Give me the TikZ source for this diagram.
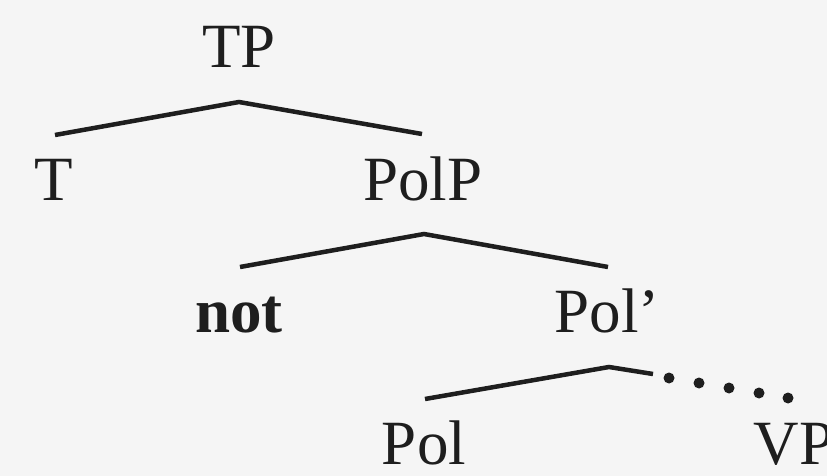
\documentclass[tikz,border=0pt]{standalone}
\usepackage{fontspec}
\setmainfont{Liberation Serif}
\definecolor{bg}{HTML}{F5F5F5}
\definecolor{ink}{HTML}{1E1E1E}
\begin{document}
\begin{tikzpicture}[x=1pt,y=-1pt,
  lbl/.style={anchor=base,inner sep=0pt,text=ink,font=\fontsize{63}{70}\selectfont},
  branch/.style={draw=ink,line width=4.5pt,line join=miter},
  dotmark/.style={fill=ink,draw=none}]
\useasboundingbox[fill=bg] (0,0) rectangle (827,476);
\begin{scope}
\clip (0,0) rectangle (827,476);
\node[lbl] (TP) at (239,68) {TP};
\node[lbl] (T) at (54,200) {T};
\node[lbl] (PolP) at (423,200) {PolP};
\node[lbl] (not) at (239,332) {\bfseries not};
\node[lbl] (Polbar) at (607,332) {Pol’};
\node[lbl] (Pol) at (424,464) {Pol};
\node[lbl] (VP) at (794,464) {VP};
% branch points
\coordinate (tpA) at (239,102);
\coordinate (tpL) at (55,135);
\coordinate (tpR) at (422,134);
\coordinate (ppA) at (424,234);
\coordinate (ppL) at (240,267);
\coordinate (ppR) at (608,267);
\coordinate (pbA) at (609,367);
\coordinate (pbL) at (425,399);
\coordinate (pbR) at (653,374);
\draw[branch] (tpL) -- (tpA) -- (tpR);
\draw[branch] (ppL) -- (ppA) -- (ppR);
\draw[branch] (pbL) -- (pbA) -- (pbR);
\foreach \x/\y in {669/378,699/383,729/388,759/393,788/398}
  \fill[dotmark] (\x,\y) circle (5.5);
\end{scope}
\end{tikzpicture}
\end{document}
